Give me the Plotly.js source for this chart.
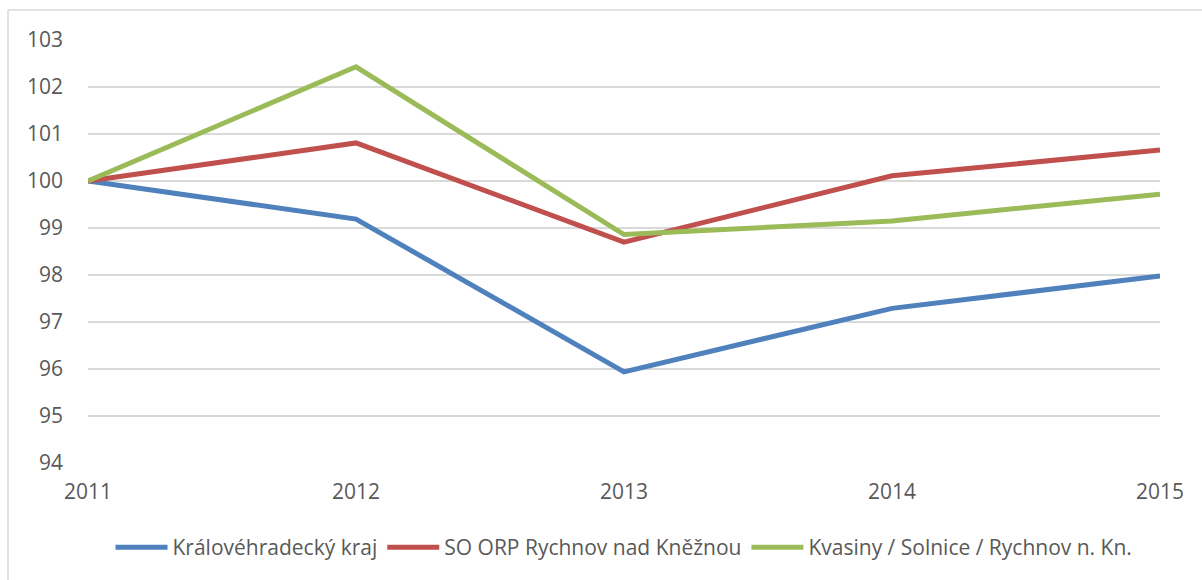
<!DOCTYPE html>
<html>
<head>
<meta charset="utf-8">
<script src="https://cdn.plot.ly/plotly-3.0.1.min.js"></script>
<style>
  html, body { margin: 0; padding: 0; background: #fff; }
  #chart { width: 1202px; height: 580px; }
</style>
</head>
<body>
<div id="chart"></div>
<script>
// index values, 2011 = 100
var years = [2011, 2012, 2013, 2014, 2015];
var seriesNames = ['Královéhradecký kraj', 'SO ORP Rychnov nad Kněžnou', 'Kvasiny / Solnice / Rychnov n. Kn.'];
var kraj = [100, 99.19, 95.94, 97.29, 97.98];
var orp = [100, 100.81, 98.70, 100.11, 100.66];
var kvasiny = [100, 102.43, 98.86, 99.15, 99.72];
var yTicks = [94, 95, 96, 97, 98, 99, 100, 101, 102, 103];

var colors = ['#4F81BD', '#C0504D', '#9BBB59'];
var values = [kraj, orp, kvasiny];

var data = [];
for (var i = 0; i < values.length; i++) {
  data.push({
    x: years,
    y: values[i],
    name: seriesNames[i],
    type: 'scatter',
    mode: 'lines',
    line: { color: colors[i], width: 5 },
    hoverinfo: 'x+y+name'
  });
}

var fontFamily = '"Open Sans", "Liberation Sans", sans-serif';

var layout = {
  width: 1202,
  height: 580,
  margin: { l: 88, r: 42, t: 40, b: 117 },
  paper_bgcolor: '#ffffff',
  plot_bgcolor: '#ffffff',
  font: { family: fontFamily, size: 21, color: '#595959' },
  xaxis: {
    range: [2011, 2015],
    tickvals: years,
    ticktext: years.map(String),
    showgrid: false,
    zeroline: false,
    showline: false,
    ticks: '',
    ticklabelstandoff: 14,
    fixedrange: true
  },
  yaxis: {
    range: [94, 103],
    tickvals: yTicks,
    showgrid: true,
    gridcolor: '#d9d9d9',
    gridwidth: 1.5,
    zeroline: false,
    showline: false,
    ticks: '',
    ticklabelstandoff: 24,
    fixedrange: true
  },
  showlegend: true,
  legend: {
    orientation: 'h',
    x: 0.5,
    xanchor: 'center',
    y: -0.2,
    yanchor: 'middle',
    font: { family: fontFamily, size: 21, color: '#595959' },
    itemwidth: 52,
    traceorder: 'normal'
  },
  shapes: [
    // chart frame (top and left edges visible)
    { type: 'line', xref: 'paper', yref: 'paper', x0: -80 / 1072, x1: 1.04, y0: 1 + 30 / 423, y1: 1 + 30 / 423,
      line: { color: '#d9d9d9', width: 1.5 } },
    { type: 'line', xref: 'paper', yref: 'paper', x0: -80 / 1072, x1: -80 / 1072, y0: 1 + 30 / 423, y1: -0.3,
      line: { color: '#d9d9d9', width: 1.5 } }
  ]
};

Plotly.newPlot('chart', data, layout, { displayModeBar: false, staticPlot: true });
</script>
</body>
</html>
